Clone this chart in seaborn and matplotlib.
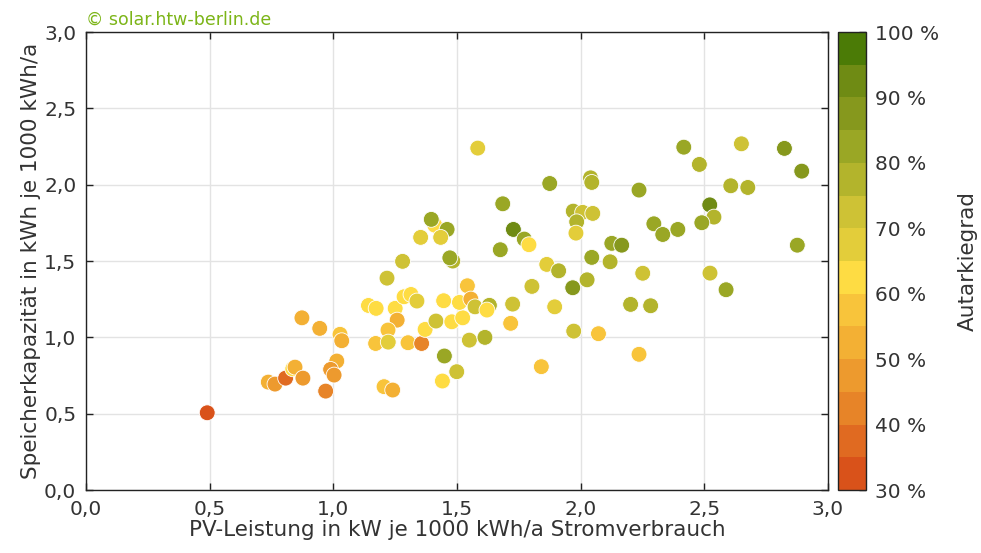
import matplotlib
matplotlib.use("Agg")
import matplotlib.pyplot as plt
import matplotlib.colors as mcolors
import matplotlib.cm as cm
from matplotlib.ticker import FuncFormatter, MultipleLocator
import pandas as pd
import seaborn as sns

# PV-Leistung in kW je 1000 kWh/a
pv = [0.49, 0.737, 0.764, 0.807, 0.836, 0.845, 0.877, 0.873, 0.945, 0.969,
      1.027, 1.034, 1.014, 0.989, 1.003, 1.142, 1.173, 1.25, 1.286, 1.314,
      1.338, 1.258, 1.221, 1.171, 1.222, 1.302, 1.357, 1.371, 1.415, 1.446,
      1.479, 1.523, 1.51, 1.542, 1.556, 1.573, 1.55, 1.449, 1.499, 1.441,
      1.205, 1.24, 1.217, 1.584, 1.875, 2.04, 2.045, 2.236, 1.685, 1.41,
      1.396, 1.46, 1.353, 1.434, 1.728, 1.772, 1.791, 1.675, 1.97, 2.008,
      2.049, 1.984, 1.981, 2.126, 2.166, 2.045, 2.119, 2.251, 1.28, 1.483,
      1.471, 1.863, 1.911, 1.968, 2.026, 1.803, 2.202, 1.895, 1.725, 1.717,
      1.972, 2.072, 1.841, 2.236, 1.613, 1.631, 1.621, 2.417, 2.65, 2.824,
      2.894, 2.48, 2.607, 2.676, 2.522, 2.539, 2.49, 2.296, 2.332, 2.393,
      2.876, 2.523, 2.588, 2.283]

# Speicherkapazitaet in kWh je 1000 kWh/a
speicher = [0.506, 0.707, 0.694, 0.733, 0.794, 0.805, 0.733, 1.128, 1.059, 0.648,
            1.02, 0.978, 0.845, 0.79, 0.753, 1.209, 1.19, 1.19, 1.266, 1.281,
            1.238, 1.113, 1.048, 0.96, 0.969, 0.965, 0.96, 1.052, 1.107, 1.24,
            1.102, 1.128, 1.229, 1.338, 1.251, 1.2, 0.982, 0.878, 0.775, 0.714,
            0.677, 0.655, 1.388, 2.24, 2.008, 2.045, 2.015, 1.965, 1.875, 1.735,
            1.773, 1.707, 1.655, 1.655, 1.707, 1.644, 1.607, 1.574, 1.827, 1.819,
            1.812, 1.757, 1.683, 1.616, 1.604, 1.524, 1.495, 1.42, 1.498, 1.5,
            1.521, 1.478, 1.436, 1.325, 1.377, 1.334, 1.216, 1.2, 1.218, 1.092,
            1.041, 1.024, 0.808, 0.889, 1.0, 1.21, 1.179, 2.246, 2.268, 2.238,
            2.089, 2.133, 1.993, 1.982, 1.868, 1.788, 1.751, 1.744, 1.674, 1.707,
            1.604, 1.421, 1.312, 1.207]

# Autarkiegrad in %
autarkie = [32, 52, 48, 38, 62, 52, 48, 52, 52, 42,
            57, 52, 52, 48, 48, 62, 62, 62, 62, 62,
            68, 52, 57, 57, 68, 57, 42, 62, 72, 62,
            62, 62, 62, 57, 52, 72, 72, 82, 72, 62,
            57, 52, 72, 68, 82, 77, 77, 82, 82, 62,
            82, 82, 68, 68, 92, 82, 62, 82, 77, 72,
            72, 77, 68, 82, 87, 82, 77, 72, 72, 77,
            82, 68, 77, 87, 77, 72, 77, 68, 72, 57,
            72, 57, 57, 57, 77, 77, 62, 82, 72, 87,
            87, 77, 77, 77, 92, 77, 82, 82, 82, 82,
            82, 72, 82, 77]

bin_colors = ["#d9521a", "#e06a21", "#e78428", "#ed9a2e", "#f3b034", "#f8c43b",
              "#fedc43", "#e3cd3a", "#cec235", "#b3b42c", "#9aa725", "#86981d",
              "#6f8b14", "#4b7b06"]

df = pd.DataFrame({"pv": pv, "speicher": speicher, "autarkie": autarkie})

sns.set_theme(style="white")
plt.rcParams["font.family"] = ["DejaVu Sans"]

cmap = mcolors.ListedColormap(bin_colors)
norm = mcolors.Normalize(vmin=30, vmax=100)

fig = plt.figure(figsize=(9.81, 5.53), dpi=100)
ax = fig.add_axes([0.0877, 0.1139, 0.7563, 0.8281])
cax = fig.add_axes([0.8545, 0.1139, 0.0285, 0.8281])

sns.scatterplot(data=df, x="pv", y="speicher", hue="autarkie", palette=cmap,
                hue_norm=norm, s=130, edgecolor="white", linewidth=0.6,
                legend=False, ax=ax, zorder=3)

comma = FuncFormatter(lambda v, p: f"{v:.1f}".replace(".", ","))
ax.set_xlim(0, 3)
ax.set_ylim(0, 3)
ax.xaxis.set_major_locator(MultipleLocator(0.5))
ax.yaxis.set_major_locator(MultipleLocator(0.5))
ax.xaxis.set_major_formatter(comma)
ax.yaxis.set_major_formatter(comma)
ax.grid(True, color="#e3e3e3", linewidth=1)
ax.set_axisbelow(True)
for sp in ax.spines.values():
    sp.set_color("#222222")
    sp.set_linewidth(1)
ax.tick_params(direction="in", length=5, width=1, color="#222222",
               top=True, right=True, labelsize=14.5, labelcolor="#333333",
               bottom=True, left=True, pad=7)
ax.set_xlabel("PV-Leistung in kW je 1000 kWh/a Stromverbrauch",
              fontsize=15.5, color="#333333", labelpad=1)
ax.set_ylabel("Speicherkapazität in kWh je 1000 kWh/a",
              fontsize=15.5, color="#333333", labelpad=2)

ax.text(0, 1.008, "\u00a9 solar.htw-berlin.de", transform=ax.transAxes,
        ha="left", va="bottom", fontsize=12.5, color="#7cb518")

cb = fig.colorbar(cm.ScalarMappable(norm=norm, cmap=cmap), cax=cax,
                  ticks=range(30, 101, 10))
cb.outline.set_edgecolor("#222222")
cb.outline.set_linewidth(1)
cb.ax.tick_params(direction="in", length=5, width=1, color="#222222",
                  labelsize=14.5, labelcolor="#333333", pad=6)
cb.ax.set_yticklabels([f"{t} %" for t in range(30, 101, 10)])
cb.set_label("Autarkiegrad", fontsize=15.5, color="#333333", labelpad=14)

fig.savefig("out.png", dpi=100)
